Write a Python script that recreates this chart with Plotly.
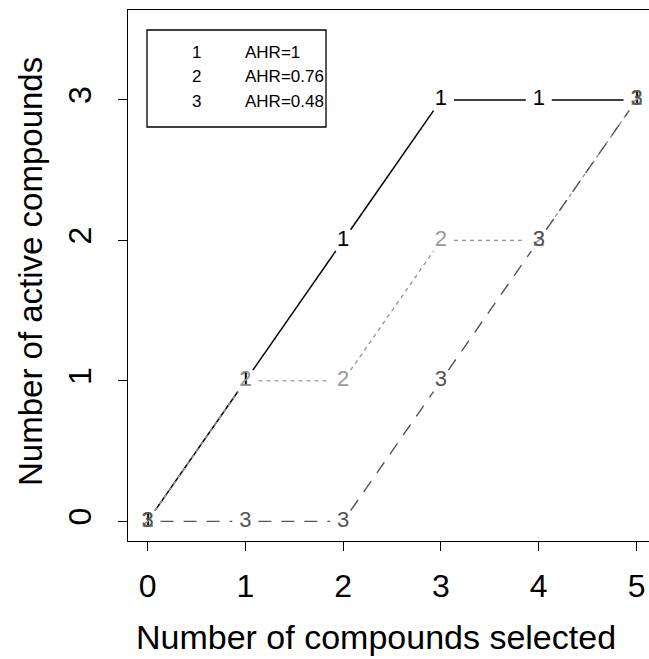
import math
import plotly.graph_objects as go

# Number of compounds selected
n_selected = [0, 1, 2, 3, 4, 5]

# Cumulative active compounds for each ranking
active_ahr_1 = [0, 1, 2, 3, 3, 3]
active_ahr_076 = [0, 1, 1, 2, 2, 3]
active_ahr_048 = [0, 0, 0, 1, 2, 3]

series_symbols = ["1", "2", "3"]
legend_labels = ["AHR=1", "AHR=0.76", "AHR=0.48"]

x_ticks = [0, 1, 2, 3, 4, 5]
y_ticks = [0, 1, 2, 3]

W, H = 649, 659
M_L, M_R, M_T, M_B = 128, 0, 10, 118
X_RANGE = [-0.2, -0.2 + (W - M_L - M_R) / 97.8]
Y_RANGE = [-0.14, 3.64]

px_x = (W - M_L - M_R) / (X_RANGE[1] - X_RANGE[0])
px_y = (H - M_T - M_B) / (Y_RANGE[1] - Y_RANGE[0])
GAP = 13  # pixel gap left around each plotted symbol

styles = [
    dict(color="#000000", dash="solid", width=1.5),
    dict(color="#999999", dash="4px,4px", width=1.4),
    dict(color="#555555", dash="13px,10px", width=1.4),
]


def gapped_segments(xs, ys):
    """Line pieces between consecutive points, trimmed around the symbols."""
    sx, sy = [], []
    for (x0, y0), (x1, y1) in zip(zip(xs, ys), zip(xs[1:], ys[1:])):
        dx = (x1 - x0) * px_x
        dy = (y1 - y0) * px_y
        length = math.hypot(dx, dy)
        if length <= 2 * GAP:
            continue
        f = GAP / length
        sx += [x0 + (x1 - x0) * f, x1 - (x1 - x0) * f, None]
        sy += [y0 + (y1 - y0) * f, y1 - (y1 - y0) * f, None]
    return sx, sy


fig = go.Figure()
all_series = [active_ahr_1, active_ahr_076, active_ahr_048]
for ys, sym, st in zip(all_series, series_symbols, styles):
    lx, ly = gapped_segments(n_selected, ys)
    fig.add_trace(go.Scatter(
        x=lx, y=ly, mode="lines",
        line=dict(color=st["color"], dash=st["dash"], width=st["width"]),
        hoverinfo="skip", showlegend=False,
    ))
    fig.add_trace(go.Scatter(
        x=n_selected, y=ys, mode="text",
        text=[sym] * len(n_selected), textposition="middle center",
        textfont=dict(family="Liberation Sans, Arial, sans-serif", size=22, color=st["color"]),
        showlegend=False,
    ))

font_family = "Liberation Sans, Arial, sans-serif"

fig.update_layout(
    width=W, height=H,
    margin=dict(l=M_L, r=M_R, t=M_T, b=M_B),
    paper_bgcolor="white", plot_bgcolor="white",
    font=dict(family=font_family, color="black"),
    xaxis=dict(
        range=X_RANGE, tickvals=x_ticks, ticktext=[str(v) for v in x_ticks],
        showgrid=False, zeroline=False,
        showline=True, mirror=True, linecolor="black", linewidth=1.3,
        ticks="outside", ticklen=9, tickwidth=1.2, tickcolor="black",
        tickfont=dict(size=32, family=font_family),
        ticklabelstandoff=7,
    ),
    yaxis=dict(
        range=Y_RANGE, tickvals=y_ticks, ticktext=[str(v) for v in y_ticks],
        showgrid=False, zeroline=False,
        showline=True, mirror=False, linecolor="black", linewidth=1.3,
        ticks="outside", ticklen=9, tickwidth=1.2, tickcolor="black",
        tickfont=dict(size=32, family=font_family), tickangle=-90,
        ticklabelstandoff=14,
    ),
)

# axis titles
fig.add_annotation(
    text="Number of compounds selected", xref="paper", yref="paper",
    x=(376 - M_L) / (W - M_L - M_R), y=-(637 - (H - M_B)) / (H - M_T - M_B),
    showarrow=False, xanchor="center", yanchor="middle",
    font=dict(size=34, family=font_family, color="black"),
)
fig.add_annotation(
    text="Number of active compounds", xref="paper", yref="paper",
    x=-(M_L - 30) / (W - M_L - M_R), y=((H - M_B) - 272) / (H - M_T - M_B),
    showarrow=False, xanchor="center", yanchor="middle", textangle=-90,
    font=dict(size=33, family=font_family, color="black"),
)

# legend box
def px_to_paper(px, py):
    return (px - M_L) / (W - M_L - M_R), ((H - M_B) - py) / (H - M_T - M_B)

x0p, y0p = px_to_paper(147, 127)
x1p, y1p = px_to_paper(326, 30)
fig.add_shape(type="rect", xref="paper", yref="paper", x0=x0p, y0=y0p, x1=x1p, y1=y1p,
              line=dict(color="black", width=1.3), fillcolor="white", layer="above")
for i, (sym, lab) in enumerate(zip(series_symbols, legend_labels)):
    row_y = 53 + i * 24
    sxp, syp = px_to_paper(196, row_y)
    fig.add_annotation(text=sym, xref="paper", yref="paper", x=sxp, y=syp,
                       showarrow=False, xanchor="center", yanchor="middle",
                       font=dict(size=17, family=font_family, color="black"))
    lxp, lyp = px_to_paper(243, row_y)
    fig.add_annotation(text=lab, xref="paper", yref="paper", x=lxp, y=lyp,
                       showarrow=False, xanchor="left", yanchor="middle",
                       font=dict(size=17, family=font_family, color="black"))

fig.write_html("out.html")
